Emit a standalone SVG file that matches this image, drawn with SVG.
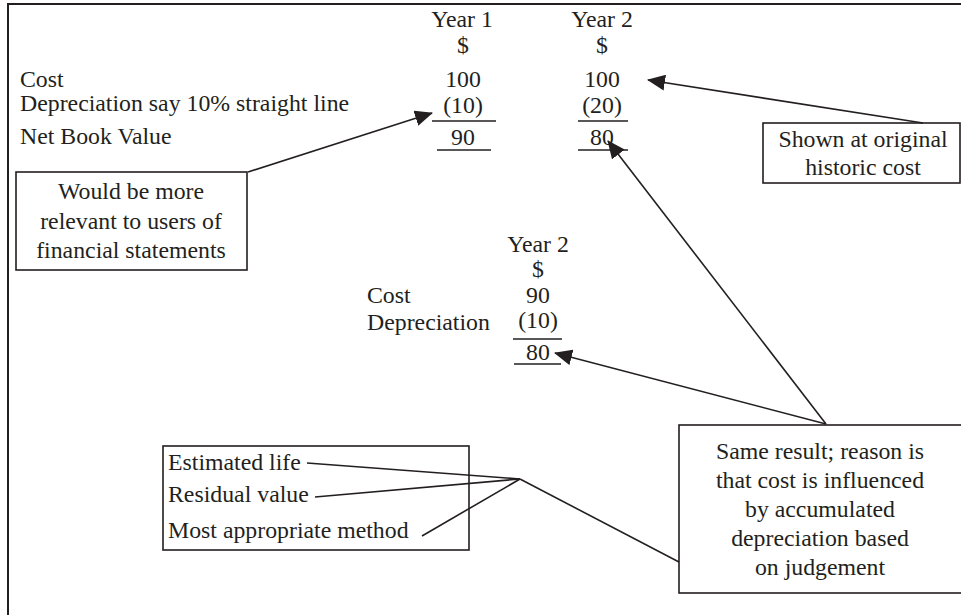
<svg xmlns="http://www.w3.org/2000/svg" width="961" height="615" viewBox="0 0 961 615">
  <style>
    text { font-family: "Liberation Serif", "Times New Roman", serif; font-size: 23.8px; fill: #231f20; }
    .c { text-anchor: middle; }
    .box { fill: #ffffff; stroke: #231f20; stroke-width: 1.6; }
    .rule { stroke: #231f20; stroke-width: 1.6; }
    .link { fill: none; stroke: #231f20; stroke-width: 1.6; }
  </style>
  <defs>
    <marker id="arrow" viewBox="0 0 18 16" refX="17" refY="8" markerWidth="18" markerHeight="16" orient="auto" markerUnits="userSpaceOnUse">
      <path d="M0,0 L18,8 L0,16 z" fill="#231f20"/>
    </marker>
  </defs>

  <rect width="961" height="615" fill="#ffffff"/>

  <!-- outer frame (top and left edges) -->
  <path d="M8,615 V4 H961" fill="none" stroke="#231f20" stroke-width="2"/>

  <!-- historic cost table -->
  <g id="cost-table">
    <text class="c" x="462" y="27">Year 1</text>
    <text class="c" x="602" y="27">Year 2</text>
    <text class="c" x="463" y="53">$</text>
    <text class="c" x="602" y="53">$</text>
    <text x="20" y="87">Cost</text>
    <text x="20" y="111">Depreciation say 10% straight line</text>
    <text x="20" y="144">Net Book Value</text>
    <text class="c" x="463" y="87">100</text>
    <text class="c" x="602" y="87">100</text>
    <text class="c" x="463" y="113">(10)</text>
    <text class="c" x="602" y="113">(20)</text>
    <line class="rule" x1="432" y1="121" x2="496" y2="121"/>
    <line class="rule" x1="578" y1="121" x2="628" y2="121"/>
    <text class="c" x="463" y="145">90</text>
    <text class="c" x="602" y="145">80</text>
    <line class="rule" x1="437" y1="150" x2="491" y2="150"/>
    <line class="rule" x1="578" y1="150" x2="628" y2="150"/>
  </g>

  <!-- revalued table -->
  <g id="revalued-table">
    <text class="c" x="538" y="252">Year 2</text>
    <text class="c" x="538" y="277">$</text>
    <text x="367" y="303">Cost</text>
    <text x="367" y="330">Depreciation</text>
    <text class="c" x="538" y="303">90</text>
    <text class="c" x="538" y="328">(10)</text>
    <line class="rule" x1="513" y1="339" x2="562" y2="339"/>
    <text class="c" x="538" y="360">80</text>
    <line class="rule" x1="514" y1="364" x2="561" y2="364"/>
  </g>

  <!-- callout boxes -->
  <g id="relevant-box">
    <rect class="box" x="16" y="172" width="231" height="98"/>
    <text class="c" x="131" y="199">Would be more</text>
    <text class="c" x="131" y="229">relevant to users of</text>
    <text class="c" x="131" y="258">financial statements</text>
  </g>

  <g id="historic-box">
    <rect class="box" x="763" y="123" width="197" height="60"/>
    <text class="c" x="863" y="147">Shown at original</text>
    <text class="c" x="863" y="175">historic cost</text>
  </g>

  <g id="judgement-box">
    <rect class="box" x="679" y="425" width="290" height="168"/>
    <text class="c" x="820" y="459">Same result; reason is</text>
    <text class="c" x="820" y="488">that cost is influenced</text>
    <text class="c" x="820" y="517">by accumulated</text>
    <text class="c" x="820" y="546">depreciation based</text>
    <text class="c" x="820" y="575">on judgement</text>
  </g>

  <g id="estimates-box">
    <rect class="box" x="163" y="446" width="306" height="104"/>
    <text x="168" y="470">Estimated life</text>
    <text x="168" y="502">Residual value</text>
    <text x="168" y="538">Most appropriate method</text>
  </g>

  <!-- connectors -->
  <g id="connectors">
    <line class="link" x1="248" y1="172" x2="432" y2="113" marker-end="url(#arrow)"/>
    <line class="link" x1="923" y1="123" x2="648" y2="80" marker-end="url(#arrow)"/>
    <line class="link" x1="826" y1="424" x2="608" y2="141" marker-end="url(#arrow)"/>
    <line class="link" x1="826" y1="424" x2="555" y2="353" marker-end="url(#arrow)"/>
    <line class="link" x1="307" y1="463" x2="520" y2="479"/>
    <line class="link" x1="315" y1="497" x2="520" y2="479"/>
    <line class="link" x1="422" y1="536" x2="520" y2="479"/>
    <line class="link" x1="520" y1="479" x2="679" y2="562"/>
  </g>
</svg>
